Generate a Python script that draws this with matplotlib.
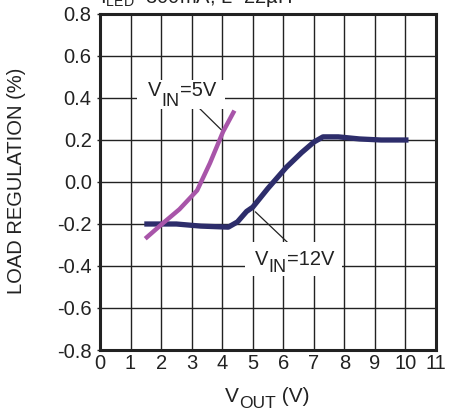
import matplotlib
matplotlib.use('Agg')
import matplotlib.pyplot as plt
from matplotlib.patches import Rectangle

plt.rcParams['font.family'] = ['Liberation Sans', 'DejaVu Sans']
plt.rcParams['mathtext.fontset'] = 'custom'
plt.rcParams['mathtext.rm'] = 'Liberation Sans'

# VIN = 5V curve
vout_5v = [1.48, 2.07, 2.6, 3.18, 3.6, 4.03, 4.4]
reg_5v = [-0.27, -0.195, -0.13, -0.04, 0.09, 0.24, 0.34]

# VIN = 12V curve
vout_12v = [1.45, 2.5, 3.3, 4.2, 4.5, 4.8, 5.0, 5.5, 6.1, 6.6, 7.0, 7.3, 7.8, 8.5, 9.2, 10.1]
reg_12v = [-0.20, -0.20, -0.21, -0.215, -0.19, -0.14, -0.12, -0.03, 0.07, 0.14, 0.19, 0.215, 0.215, 0.205, 0.20, 0.20]

xticks = list(range(0, 12))
yticks = [-0.8, -0.6, -0.4, -0.2, 0.0, 0.2, 0.4, 0.6, 0.8]

fs = 14.5
ink = '#222222'
W, H = 449, 413

fig = plt.figure(figsize=(W / 100, H / 100), dpi=100)
ax = fig.add_axes([100 / W, 1 - 350 / H, 336 / W, 336 / H])


def px(x, y):
    return x / W, 1 - y / H


def sub_text(x, y, main, sub, rest, size=fs, subsize=13, drop=6):
    # text with a big, lowered subscript, placed by pixel position of the baseline
    t1 = ax.text(*px(x, y), main, transform=fig.transFigure, fontsize=size,
                 ha='left', va='baseline', color=ink, zorder=7)
    t2 = ax.annotate(sub, xy=(1, 0), xycoords=t1, xytext=(0.3, -drop),
                     textcoords='offset points', fontsize=subsize, ha='left',
                     va='bottom', color=ink, zorder=7, annotation_clip=False)
    ax.annotate(rest, xy=(1, 0), xycoords=(t2, t1), xytext=(0.3, 0),
                textcoords='offset points', fontsize=size, ha='left',
                va='bottom', color=ink, zorder=7, annotation_clip=False)


def white_box(x0, y0, x1, y1):
    ax.add_patch(Rectangle(px(x0, y1), (x1 - x0) / W, (y1 - y0) / H,
                           transform=fig.transFigure, facecolor='white',
                           edgecolor='none', zorder=5, clip_on=False))


ax.plot(vout_12v, reg_12v, color='#2d2d6b', linewidth=3.8, solid_capstyle='butt', zorder=3)
ax.plot(vout_5v, reg_5v, color='#a855a9', linewidth=3.2, solid_capstyle='butt', zorder=4)

ax.set_xlim(0, 11)
ax.set_ylim(-0.8, 0.8)
ax.set_xticks(xticks)
ax.set_xticklabels([str(t) for t in xticks])
ax.set_yticks(yticks)
ax.set_yticklabels(['%.1f' % t for t in yticks])
ax.grid(True, color=ink, linewidth=1.0)
ax.tick_params(axis='y', length=2, width=1, labelsize=fs, pad=4, colors=ink, labelcolor=ink)
ax.tick_params(axis='x', length=0, labelsize=fs, pad=3, colors=ink, labelcolor=ink)
for s in ax.spines.values():
    s.set_linewidth(2.2)
    s.set_color(ink)

fig.text(17 / W, 1 - 181 / H, 'LOAD REGULATION (%)', fontsize=fs, color=ink,
         rotation=90, ha='center', va='center')
sub_text(225, 402, 'V', 'OUT', ' (V)', size=15, subsize=12.5, drop=3.5)

# annotations
ax.annotate('', xy=(4.03, 0.24), xytext=(3.05, 0.38),
            arrowprops=dict(arrowstyle='-', color=ink, lw=0.9), zorder=4)
white_box(137, 80, 225, 109)
sub_text(147.5, 96.5, 'V', 'IN', '=5V', drop=6.5)

ax.annotate('', xy=(5.02, -0.133), xytext=(6.33, -0.314),
            arrowprops=dict(arrowstyle='-', color=ink, lw=0.9), zorder=4)
white_box(245, 242, 342, 276)
sub_text(255, 265, 'V', 'IN', '=12V', drop=5)

# clipped header text
fig.text(100 / W, 1 - 3 / H, r'I$_\mathregular{LED}$=300mA, L=22µH', fontsize=fs,
         color=ink, ha='left', va='baseline')

fig.savefig('out.png', dpi=100)
